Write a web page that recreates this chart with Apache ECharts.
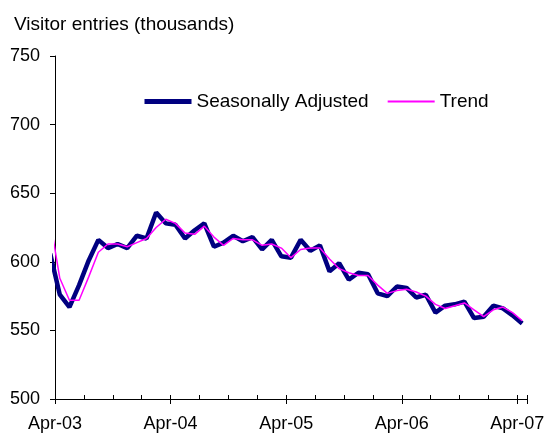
<!DOCTYPE html>
<html>
<head>
<meta charset="utf-8">
<script src="https://cdn.jsdelivr.net/npm/echarts@6/dist/echarts.min.js"></script>
<style>
  html, body { margin: 0; padding: 0; background: #fff; }
  #chart { width: 551px; height: 433px; }
</style>
</head>
<body>
<div id="chart"></div>
<script>
// monthly data, Mar-03 .. Apr-07 (Mar-03 falls left of the axis and gets clipped)
const months = [
  'Mar-03', 'Apr-03', 'May-03', 'Jun-03', 'Jul-03', 'Aug-03', 'Sep-03', 'Oct-03', 'Nov-03', 'Dec-03',
  'Jan-04', 'Feb-04', 'Mar-04', 'Apr-04', 'May-04', 'Jun-04', 'Jul-04', 'Aug-04', 'Sep-04', 'Oct-04', 'Nov-04', 'Dec-04',
  'Jan-05', 'Feb-05', 'Mar-05', 'Apr-05', 'May-05', 'Jun-05', 'Jul-05', 'Aug-05', 'Sep-05', 'Oct-05', 'Nov-05', 'Dec-05',
  'Jan-06', 'Feb-06', 'Mar-06', 'Apr-06', 'May-06', 'Jun-06', 'Jul-06', 'Aug-06', 'Sep-06', 'Oct-06', 'Nov-06', 'Dec-06',
  'Jan-07', 'Feb-07', 'Mar-07', 'Apr-07'
];
const seasonallyAdjusted = [
  606, 576, 567, 583, 601, 616, 610, 613, 610, 619,
  617, 636, 628, 627, 617, 623, 628, 611, 614, 619, 615, 618,
  609, 616, 604, 603, 616, 608, 612, 593, 599, 587, 592, 591,
  577, 575, 582, 581, 574, 576, 563, 568, 569, 571, 559, 560,
  568, 566, 561, 555
];
const trend = [
  630, 588, 572, 572, 589, 607, 613, 613, 611, 614,
  617, 625, 631, 628, 621, 620, 626, 618, 612, 617, 616, 616,
  612, 613, 610, 603, 609, 610, 610, 602, 595, 592, 590, 590,
  583, 577, 579, 580, 578, 575, 569, 566, 568, 570, 565, 560,
  565, 567, 563, 557
];
const yearLabels = ['Apr-03', 'Apr-04', 'Apr-05', 'Apr-06', 'Apr-07'];

// x is months since 1 Apr 2003, values sit mid-month
const toPoints = (vals) => vals.map((v, i) => [i - 0.5, v]);

const gridTop = 56;
const gridBottom = 34;
const gridHeight = 433 - gridTop - gridBottom;
const font = 'Liberation Sans, Arial, sans-serif';

const chart = echarts.init(document.getElementById('chart'));
chart.setOption({
  animation: false,
  backgroundColor: '#fff',
  title: {
    text: 'Visitor entries (thousands)',
    left: 14,
    top: 15,
    padding: 0,
    textStyle: { fontFamily: font, fontSize: 19, fontWeight: 'normal', color: '#000' }
  },
  legend: {
    left: 142,
    top: 92,
    padding: 0,
    itemWidth: 47,
    itemHeight: 14,
    itemGap: 18,
    itemStyle: { opacity: 0 },
    textStyle: { fontFamily: font, fontSize: 19, color: '#000' },
    data: [
      { name: 'Seasonally Adjusted', lineStyle: { width: 5 } },
      { name: 'Trend', lineStyle: { width: 2 } }
    ]
  },
  grid: {
    left: 55,
    right: 24,
    top: gridTop,
    bottom: gridBottom,
    outerBoundsMode: 'none'
  },
  xAxis: [
    {
      type: 'value',
      position: 'bottom',
      min: 0,
      max: 49,
      interval: 3,
      axisLine: { show: true, lineStyle: { color: '#000', width: 1 } },
      axisTick: { show: true, inside: true, length: 4, lineStyle: { color: '#000' } },
      axisLabel: {
        margin: 16,
        fontFamily: font,
        fontSize: 18,
        color: '#000',
        formatter: (v) => (v % 12 === 0 ? yearLabels[v / 12] : '')
      },
      splitLine: { show: false }
    },
    {
      // yearly ticks pointing down, moved onto the bottom edge
      type: 'value',
      position: 'top',
      offset: -gridHeight,
      min: 0,
      max: 49,
      interval: 12,
      axisLine: { show: false },
      axisTick: { show: true, inside: true, length: 5, lineStyle: { color: '#000' } },
      axisLabel: { show: false },
      splitLine: { show: false }
    }
  ],
  yAxis: {
    type: 'value',
    min: 500,
    max: 750,
    interval: 50,
    axisLine: { show: true, lineStyle: { color: '#000', width: 1 } },
    axisTick: { show: true, length: 5, lineStyle: { color: '#000' } },
    axisLabel: { margin: 15, fontFamily: font, fontSize: 18, color: '#000' },
    splitLine: { show: false }
  },
  series: [
    {
      name: 'Seasonally Adjusted',
      type: 'line',
      xAxisIndex: 0,
      symbol: 'none',
      clip: true,
      color: '#000080',
      lineStyle: { color: '#000080', width: 4.5 },
      data: toPoints(seasonallyAdjusted)
    },
    {
      name: 'Trend',
      type: 'line',
      xAxisIndex: 0,
      symbol: 'none',
      clip: true,
      color: '#ff00ff',
      lineStyle: { color: '#ff00ff', width: 1.5 },
      data: toPoints(trend)
    }
  ]
});
</script>
</body>
</html>
